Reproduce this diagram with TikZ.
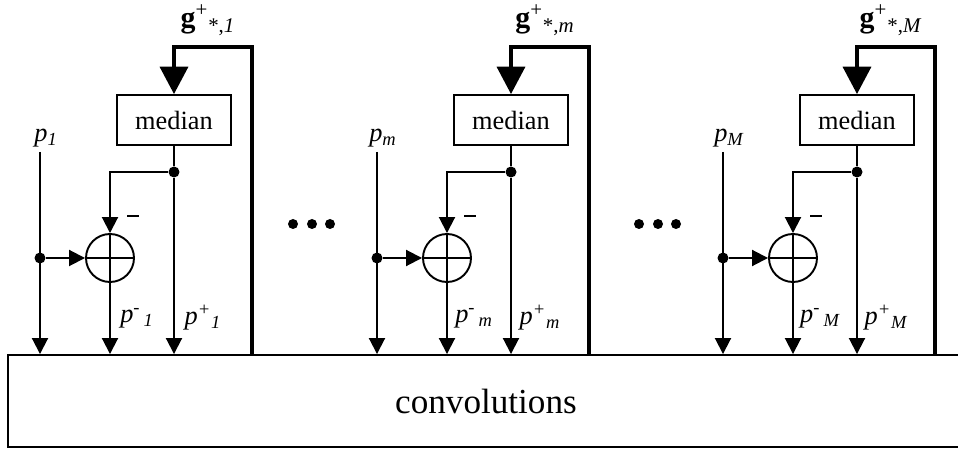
\documentclass[tikz,border=0pt]{standalone}
\usepackage{fontspec}
\setmainfont{Liberation Serif}
\usetikzlibrary{arrows.meta,positioning,calc}
\begin{document}
\begin{tikzpicture}[x=0.02cm,y=-0.02cm,
  sig/.style={line width=1.1pt,-{Triangle[length=0.32cm,width=0.32cm]}},
  fb/.style={line width=2.8pt,-{Triangle[length=0.55cm,width=0.55cm]}},
  medbox/.style={draw,line width=0.9pt,minimum width=2.28cm,minimum height=1cm,
    font=\fontsize{15}{17}\selectfont},
  sumnode/.style={draw,circle,line width=1.1pt,minimum size=0.96cm,inner sep=0pt},
  jdot/.style={circle,fill,inner sep=0pt,minimum size=0.22cm},
  lbl/.style={font=\fontsize{15}{17}\selectfont\itshape}]
  \useasboundingbox (0,0) rectangle (958,449);
  \node[draw,line width=1.1pt,minimum width=19.12cm,minimum height=1.84cm,
    font=\fontsize{20}{24}\selectfont](conv) at (486,401){convolutions};
  \foreach \X/\k in {40/1,377/m,723/M}{
    \coordinate (p\k) at (\X,152);
    \coordinate (top\k) at (\X+212,47);
    \node[lbl](pl\k) at (\X+6,138){p\textsubscript{\k}};
    \node[sumnode](s\k) at (\X+70,258){};
    \node[medbox](med\k) at (\X+134,120){median};
    \draw[sig] (p\k) -- (p\k |- conv.north);
    \node[jdot](j\k) at (\X,258){};
    \node[jdot](d\k) at (\X+134,172){};
    \draw[sig] (j\k) -- (s\k.west);
    \draw[line width=1.1pt] (s\k.north) -- (s\k.south) (s\k.west) -- (s\k.east);
    \draw[sig] (d\k) -| (s\k.north);
    \draw[sig] (s\k.south) -- (s\k |- conv.north);
    \draw[line width=1.1pt] (med\k.south) -- (d\k);
    \draw[sig] (d\k) -- (d\k |- conv.north);
    \draw[fb] (top\k |- conv.north) -- (top\k) -| (med\k.north);
    \node[inner sep=0pt](mi\k) at (\X+93,216){\rule{0.24cm}{1.7pt}};
    \node[lbl](pm\k) at (\X+97,318){p\textsuperscript{-}\textsubscript{\,\k}};
    \node[lbl](pp\k) at (\X+163,318){p\textsuperscript{+}\textsubscript{\k}};
    \node[font=\fontsize{17}{19}\selectfont](g\k) at (\X+168,20)
      {\textbf{g}\textsuperscript{+}\textsubscript{*,\textit{\k}}};
  }
  \foreach \x in {293,312,330,639,658,676}
    \node[jdot,minimum size=0.2cm] at (\x,224){};
\end{tikzpicture}
\end{document}
